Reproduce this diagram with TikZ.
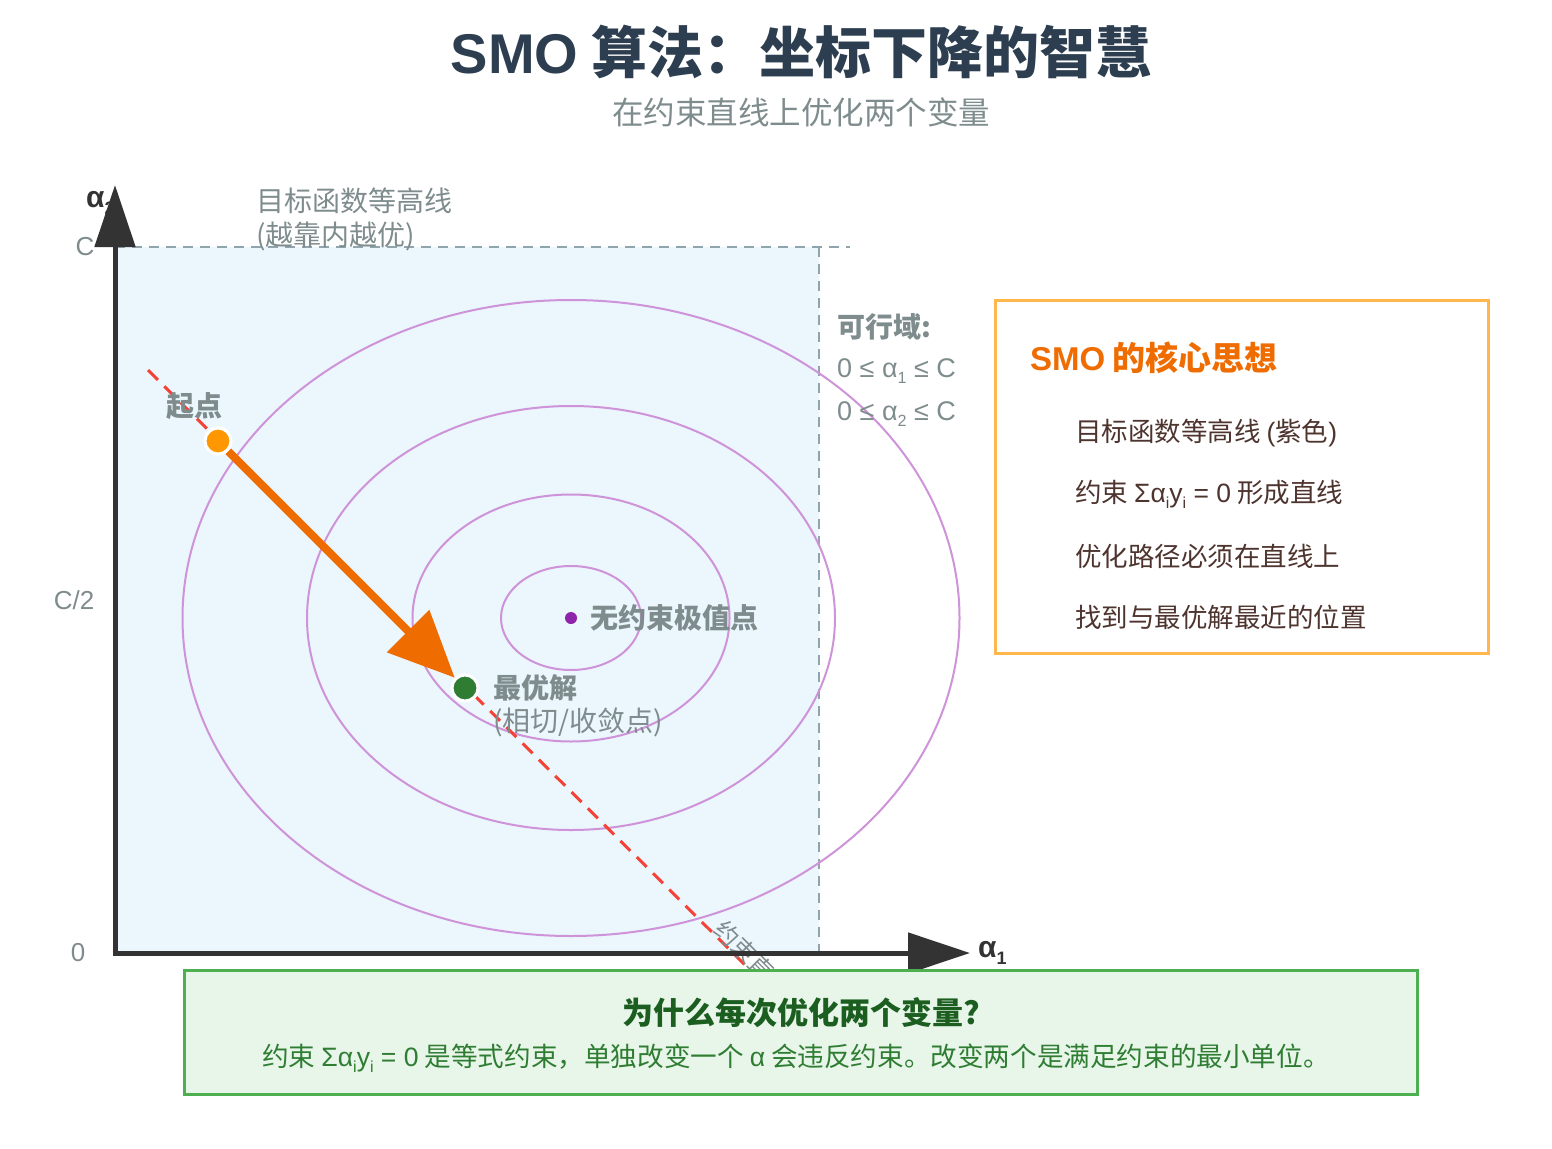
\documentclass[tikz,border=0pt]{standalone}
\usepackage{fontspec}
\setmainfont{Noto Sans CJK SC}
\newfontfamily\latn{Liberation Sans}
\usetikzlibrary{arrows.meta}
\definecolor{titlec}{HTML}{2C3E50}
\definecolor{grayt}{HTML}{7F8C8D}
\definecolor{feas}{HTML}{EBF6FD}
\definecolor{dashg}{HTML}{90A4AE}
\definecolor{contour}{HTML}{CE93D8}
\definecolor{redl}{HTML}{F44336}
\definecolor{orangeA}{HTML}{EF6C00}
\definecolor{orangeP}{HTML}{FF9800}
\definecolor{greenP}{HTML}{2E7D32}
\definecolor{purpleP}{HTML}{8E24AA}
\definecolor{boxor}{HTML}{FFB74D}
\definecolor{brownt}{HTML}{4E342E}
\definecolor{greenbg}{HTML}{E8F5E9}
\definecolor{greenbd}{HTML}{4CAF50}
\definecolor{greendk}{HTML}{1B5E20}
\newcommand\fs[1]{\fontsize{#1}{#1}\selectfont}
\newcommand\Lt[1]{{\latn #1}}
\newcommand\lowix[1]{\raisebox{-0.45ex}{\scalebox{0.6}{#1}}}
\begin{document}
\begin{tikzpicture}[x=1pt,y=-1pt,
  lbl/.style={text=grayt,inner sep=0pt,font=\fs{28}},
  lblb/.style={lbl,font=\fs{28}\bfseries},
  ell/.style={draw=contour,line width=2pt},
  axis/.style={draw=black!80,line width=5pt,-{Triangle[length=62pt,width=40pt]}},
  pt/.style={circle,draw=white,line width=3pt,minimum size=26pt,inner sep=0pt},
  item/.style={anchor=west,text=brownt,inner sep=0pt,font=\fs{26.5}}]
\useasboundingbox (0,0) rectangle (1552,1148);
% titles
\node[font=\fs{56}\bfseries,text=titlec] (title) at (801,52) {\Lt{SMO} 算法：坐标下降的智慧};
\node[font=\fs{31.5},text=grayt] (sub) at (801,112) {在约束直线上优化两个变量};
% feasible region
\fill[feas] (115,247) rectangle (819,953);
\draw[dashg,line width=2pt,dash pattern=on 10pt off 7pt] (115,247) -- (850,247);
\draw[dashg,line width=2pt,dash pattern=on 10pt off 7pt] (819,247) -- (819,953);
% contours
\coordinate (ctr) at (571,618);
\draw[ell] (ctr) ellipse [x radius=388.5, y radius=318];
\draw[ell] (ctr) ellipse [x radius=264, y radius=212];
\draw[ell] (ctr) ellipse [x radius=158.5, y radius=123.5];
\draw[ell] (ctr) ellipse [x radius=70, y radius=52];
% constraint line
\coordinate (l0) at (148,370);
\coordinate (l1) at (745,965);
\draw[redl,line width=3pt,dash pattern=on 14pt off 9pt] (l0) -- (l1);
\node[lbl,rotate=-45,anchor=west,font=\fs{24}] (cl) at (719,925) {约束直线};
% axes
\coordinate (o) at (115,953);
\coordinate (ytip) at (115,185);
\coordinate (xtip) at (970,953);
\node[font=\fs{30}\bfseries,text=black!80,anchor=west,inner sep=0pt] (ya) at (86,203) {\Lt{α\lowix{2}}};
\draw[axis] (115,955.5) -- (ytip);
\draw[axis] (112.5,953) -- (xtip);
\node[font=\fs{30}\bfseries,text=black!80,anchor=west,inner sep=0pt] (xa) at (978,953) {\Lt{α\lowix{1}}};
\node[lbl,font=\fs{26}\latn] (tc) at (85,247) {C};
\node[lbl,font=\fs{26}\latn] (tc2) at (74,600) {C/2};
\node[lbl,font=\fs{26}\latn] (t0) at (78,953) {0};
% labels
\node[lbl,anchor=west,align=left] (ctl) at (256,219) {目标函数等高线\\[6pt](越靠内越优)};
\node[lblb,anchor=west] (fr) at (837,327) {可行域:};
\node[lbl,anchor=west,font=\fs{27}\latn] (fr1) at (837,371) {0 ≤ α\lowix{1} ≤ C};
\node[lbl,anchor=west,font=\fs{27}\latn] (fr2) at (837,414) {0 ≤ α\lowix{2} ≤ C};
% unconstrained optimum
\fill[purpleP] (ctr) circle (6pt);
\node[lblb,anchor=west] (ul) at (590,618) {无约束极值点};
% points and arrow
\node[pt,fill=orangeP] (start) at (218,441) {};
\node[pt,fill=greenP] (opt) at (465,688) {};
\draw[orangeA,line width=8pt,-{Triangle[length=66pt,width=58pt]}] (start) -- (opt);
\node[pt,fill=orangeP] at (218,441) {};
\node[pt,fill=greenP] at (465,688) {};
\node[lblb] (sl) at (194,406) {起点};
\node[lblb,anchor=west] (ol) at (493,688) {最优解};
\node[lbl,anchor=west] (ol2) at (493,722) {(相切/收敛点)};
% SMO box
\draw[boxor,fill=white,line width=3pt] (995,300) rectangle (1488,653);
\node[anchor=west,inner sep=0pt,text=orangeA,font=\fs{33}\bfseries] (bt) at (1030,358) {\Lt{SMO} 的核心思想};
\node[item] (i1) at (1075,433) {目标函数等高线 \Lt{(}紫色\Lt{)}};
\node[item] (i2) at (1075,494) {约束 \Lt{Σα\lowix{i}y\lowix{i} = 0} 形成直线};
\node[item] (i3) at (1075,556) {优化路径必须在直线上};
\node[item] (i4) at (1075,617) {找到与最优解最近的位置};
% bottom box
\draw[greenbd,fill=greenbg,line width=3pt] (184,970) rectangle (1417,1094);
\node[text=greendk,font=\fs{31}\bfseries] (gt) at (801,1013) {为什么每次优化两个变量?};
\node[text=greenP,font=\fs{26.6}] (gb) at (796,1058) {约束 \Lt{Σα\lowix{i}y\lowix{i} = 0} 是等式约束，单独改变一个 \Lt{α} 会违反约束。改变两个是满足约束的最小单位。};
\end{tikzpicture}
\end{document}
